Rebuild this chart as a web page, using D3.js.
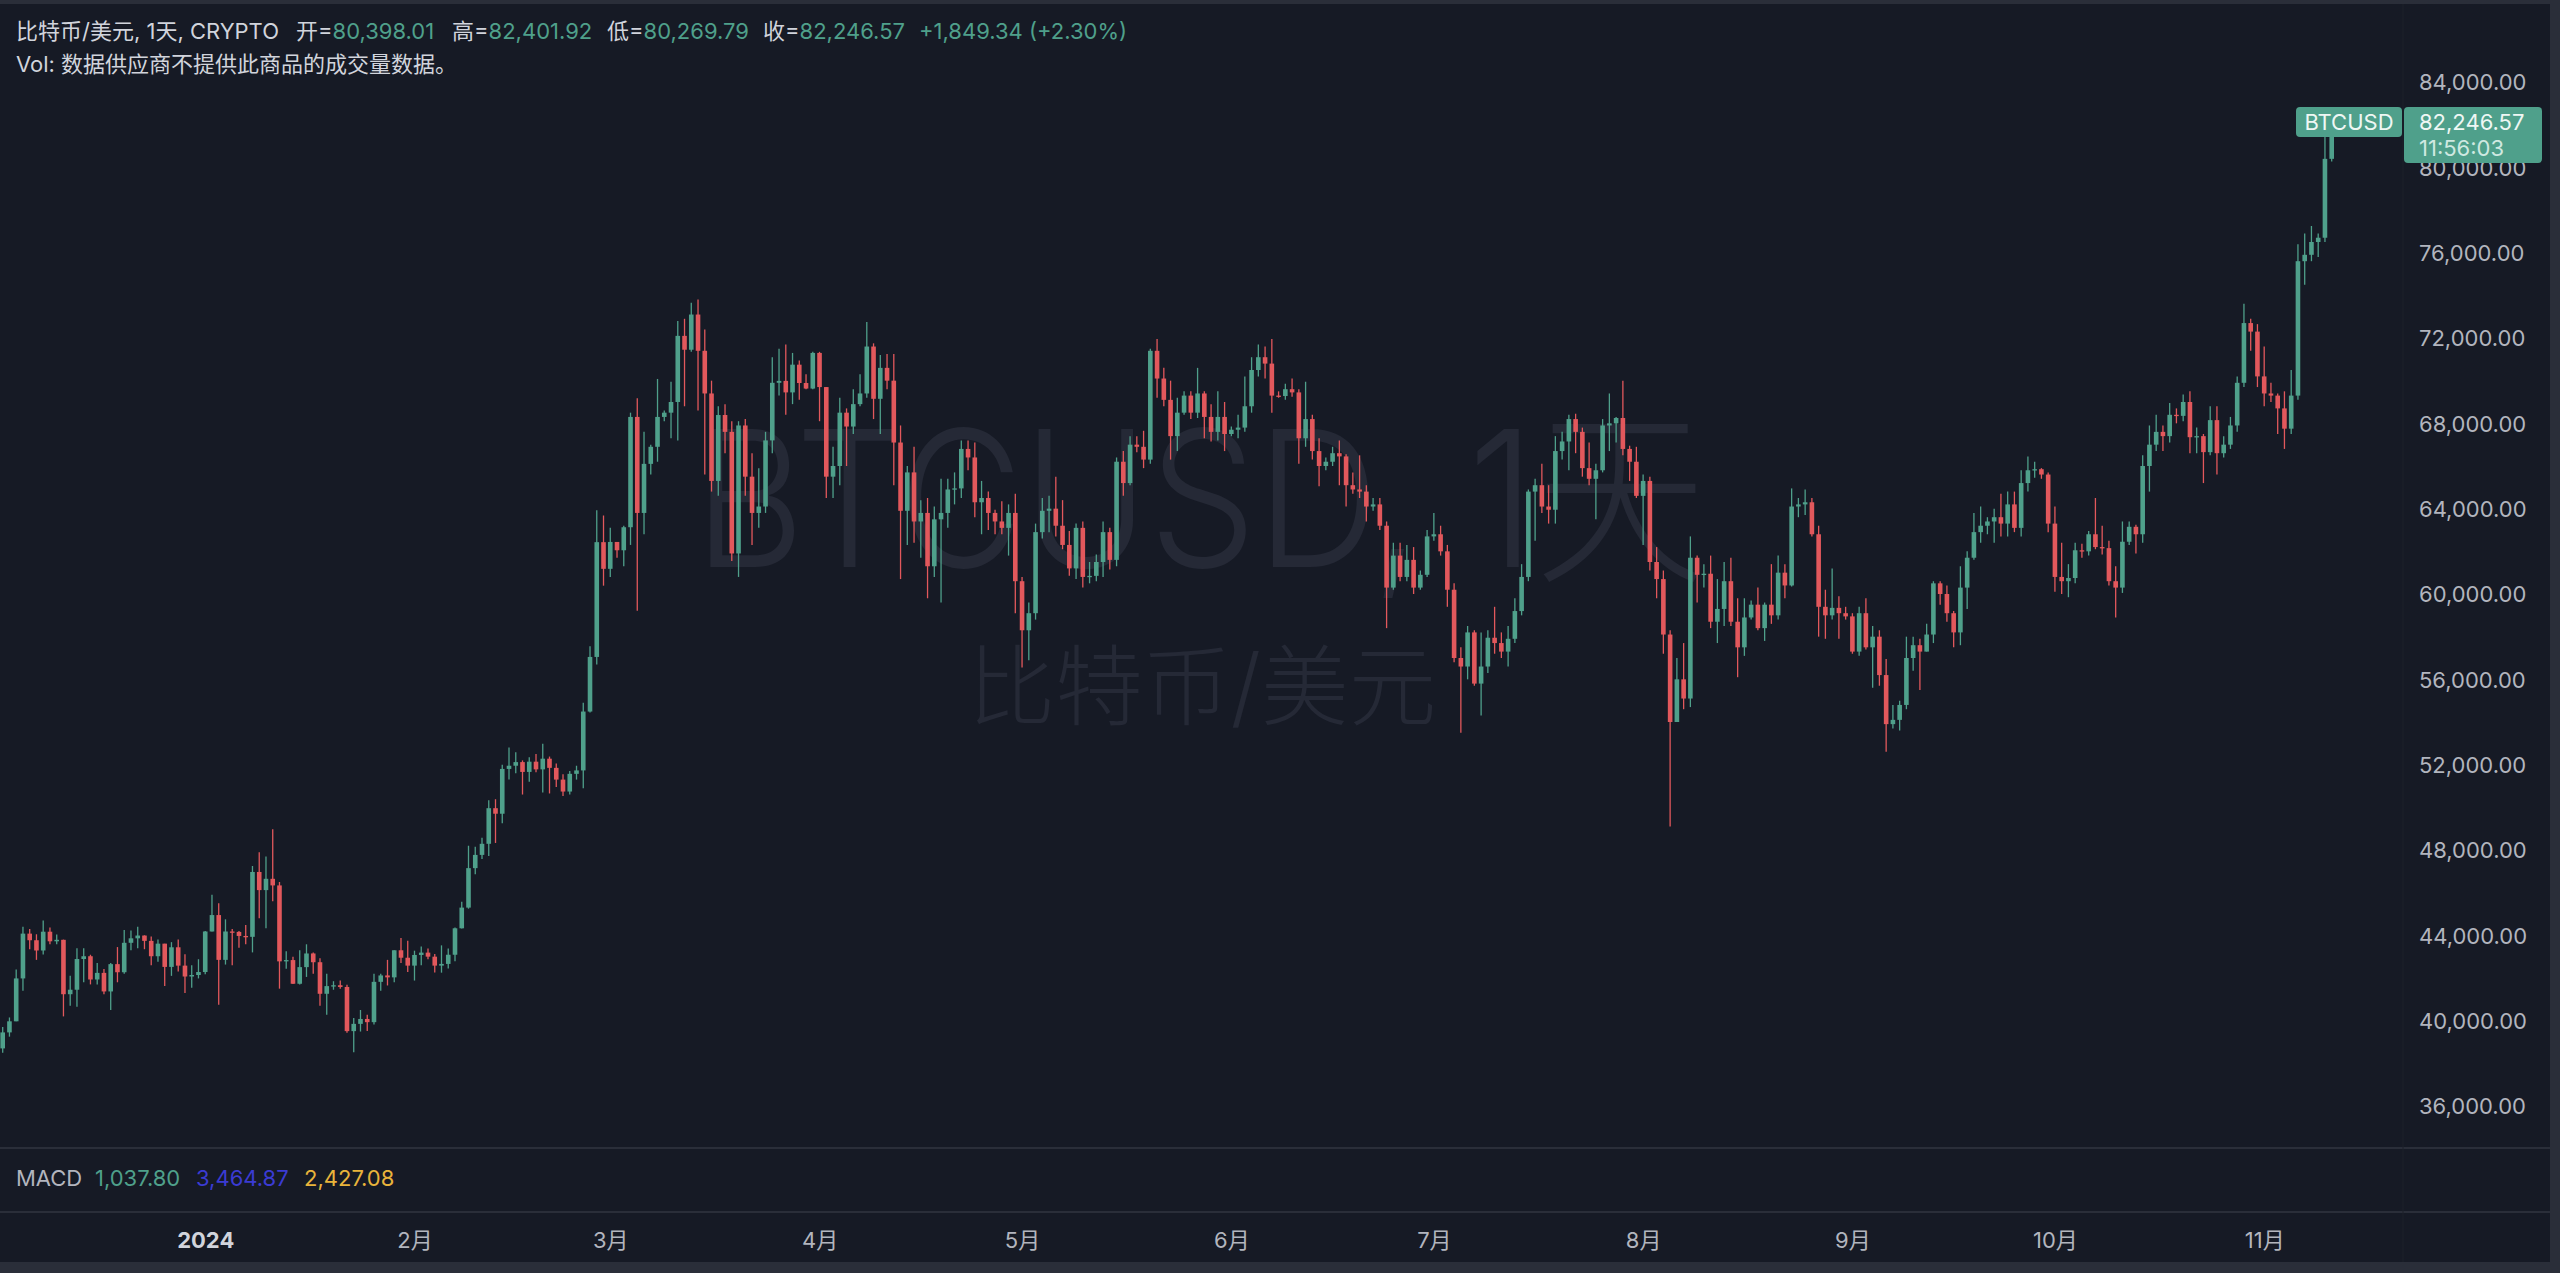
<!DOCTYPE html>
<html><head><meta charset="utf-8">
<script src="https://cdn.jsdelivr.net/npm/d3@7"></script>
<style>
html,body{margin:0;padding:0;background:#2a2e39;overflow:hidden;}
svg{display:block;}
text{font-family:Inter,"Noto Sans CJK SC","Noto Sans",sans-serif;}
</style></head><body>
<script>
// ---------- DATA ----------
const startDate = "2023-12-02"; // first daily candle (one candle per day)
const open = [
// Dec 2023
38700,39450,39970,41980,44080,43770,43290,44170,43720,43790,41240,41450,42890,43020,41930,42240,41370,42650,42270,43650,43860,43990,43740,43020,43610,42520,43440,42580,42070,42140,
// Jan
42280,44180,44950,42850,44180,44160,43970,43930,46970,46120,46650,46340,42780,42840,41730,42510,43150,42740,41260,41620,41660,41580,39510,39850,40080,39930,41820,42120,42030,43300,42950,
// Feb
42580,43080,43190,43000,42580,42660,43090,44330,45300,47150,47770,48290,49960,49700,51800,51950,52120,51660,52140,51780,52280,51850,51300,50740,51570,51730,54490,57050,62430,
// Mar
61180,62440,62050,63130,68300,63800,66100,66900,68300,68500,69000,72100,71450,73100,71400,69400,65300,68390,67600,61900,67900,65500,63800,64100,67200,69900,69990,69450,70750,69890,69630,
// Apr
71300,69700,65500,66000,68500,67850,68900,69400,71600,69150,70600,70000,67100,63900,65700,63400,63800,61300,63500,63800,64900,64950,66800,66400,64300,64500,63800,63400,63100,63800,
// May
60600,58300,59100,62900,63900,64000,63200,62300,61200,63100,60800,60850,61500,62900,61600,66200,65200,67000,66900,66300,71400,70100,69100,67400,68500,69300,68500,69400,68300,67600,68300,
// Jun
67500,67700,67800,68800,70500,71100,70800,69300,69280,69600,69450,67300,68200,66700,66000,66200,66600,66450,65100,64900,64800,64100,64200,63200,60300,61800,60800,61600,60300,60900,
// Jul
62700,62800,62000,60200,57000,56600,58200,55800,56600,57950,57700,57300,57900,59200,60800,64800,65100,64100,63950,66700,67150,68200,67600,65900,65400,65800,67900,68000,68250,66800,66200,
// Aug
64600,65300,61500,60700,58100,54000,56000,55100,61700,60900,60950,58700,59300,60600,58700,57500,58900,59500,58400,59500,59000,61000,60400,64100,64200,64300,62800,59400,59000,59350,59100,
// Sep
58950,57300,59100,57500,58000,56200,53900,54100,54800,57000,57600,57300,58100,60500,60000,59100,58200,60300,61700,62900,63200,63400,63600,63300,64200,63100,65200,65800,65850,65600,
// Oct
63300,60800,60600,60750,62050,62000,62800,62200,62150,60600,60300,62450,63150,62800,66000,67000,67600,67400,68400,68350,69000,67350,67400,66650,68150,66600,67000,67900,69900,72700,72300,
// Nov
70200,69400,69300,68700,67750,69300,75600,75900,76500,76700,80398.01
];
const high = [
39700,40150,42400,44400,44300,44050,44700,44370,44040,43800,42100,43400,43400,43090,42700,42420,42700,43450,44250,44230,44400,44000,43950,43800,43610,43680,43800,43110,42600,42880,
44200,45900,45500,44750,44300,44200,44490,47250,47900,47700,48970,46500,43250,43000,43300,43580,43200,42930,42200,41850,41880,41680,40130,40500,40280,42200,42200,42850,43300,43880,43750,
43280,43480,43380,43120,43530,43380,44370,45580,48200,48150,48580,50330,50380,52000,52800,52580,52200,52350,52500,52980,52380,52050,51550,51700,51950,54900,57550,63930,63680,
63100,62440,63200,68500,69170,67600,67000,70080,68600,69950,72800,72900,73650,73800,72400,70000,68800,68900,68100,68100,68200,66600,65900,67600,71100,71500,71700,71300,70950,70300,71350,
71350,69700,66900,69200,68700,69600,70300,72750,71750,71200,71250,71250,67900,66000,66900,64400,64500,64100,65400,65400,65700,67200,67200,67100,65300,64800,63950,64350,64200,64700,
60800,59600,63300,64500,64600,65500,64400,62950,63300,63400,61500,61850,63400,63100,66400,66700,67400,67400,67650,71500,71950,70600,70000,69200,69500,69500,70600,69500,68900,69500,69000,
67850,68400,70200,71100,71700,71600,71950,69500,69850,70100,69600,69950,68400,67300,66400,66900,67200,66550,65700,66500,65100,64500,64500,63400,62400,62400,62300,62200,61100,63000,
63800,63200,62300,60500,57500,58500,58300,58200,58300,59400,58200,58500,59800,61400,64900,65400,66100,65100,67400,67600,68400,68450,67800,67100,66100,68200,69400,68300,70000,66950,66900,
65600,65500,62200,61100,58300,57000,57700,62700,61800,61400,61800,60700,61500,61700,59800,59800,59700,60300,59600,61400,61800,61400,64950,64500,64900,64500,63200,60200,61200,59900,59400,
59100,59400,59800,58500,58300,56950,54800,55000,58000,58000,57900,58600,60600,60600,60400,59200,61300,62000,63800,64100,63600,64000,64700,64800,64800,65800,66450,66200,65900,65700,
64100,62400,61400,62400,62350,62950,64500,63200,62500,61300,63400,63400,63250,66500,67900,68400,67900,68950,68700,69350,69500,67800,67500,68800,68800,67400,68300,70200,73600,72900,72650,
71600,69900,69400,69500,70500,76400,76900,77250,76900,81500,82401.92
];
const low = [
38500,39250,39970,41400,43350,42850,43100,43580,43580,40200,40700,40650,41800,41700,41700,41240,40500,41800,42200,43300,43400,43350,42600,42760,41630,42100,42300,41300,41540,41980,
42170,44180,40750,42630,42600,43420,43580,43200,44800,44330,45600,41500,42430,41720,41700,42050,42200,40700,40280,41450,41500,39430,38520,39490,39520,39820,41400,41650,41800,42700,42280,
41880,42600,42880,42260,42250,42450,42780,44320,45250,46860,47580,47720,48330,49250,51300,51600,50600,51200,51650,50700,50650,50950,50530,50600,51300,50900,54450,56700,60390,
60800,61700,61300,62300,59220,62800,65600,66200,68100,67300,67200,68800,71350,68600,65600,64800,64600,66600,61550,60800,64600,62300,63100,63800,66600,69300,68400,68900,69100,69600,69600,
68100,64500,64500,65100,66000,67500,68800,69200,68200,67500,69600,65100,60700,62300,62400,61700,59800,60800,59600,63100,64200,64500,65800,63600,62800,63000,62800,62800,61800,59100,
56550,56900,58800,62600,62900,62700,62100,60850,60700,60300,60500,60600,60800,61150,61300,64600,65100,66650,65900,66100,69200,68800,66300,66700,68400,68200,68250,67300,67150,67200,66700,
67400,67300,67600,68500,70200,70100,68500,69200,69100,69250,66100,66900,66300,65050,65800,66000,65100,64100,64700,64500,63400,63900,63000,58400,60200,60600,60600,60000,60200,60800,
62500,61800,59400,56800,53500,56000,55700,54300,56300,57200,57000,56600,57700,59000,60600,62500,63800,63300,63300,66300,65800,66600,65500,65100,63500,65700,66700,67100,66500,65300,64500,
62300,61100,59800,57200,49100,54000,54600,54700,59600,60300,58400,57700,58500,58500,56100,57100,58800,58300,57800,58600,58800,59800,60350,63600,63700,62700,58000,57900,58800,57900,58800,
57200,57100,57400,55600,55700,52600,53700,53600,54600,56400,55500,57300,57700,59500,58700,57500,57600,59300,61600,62400,62800,62400,62700,62700,62900,62700,64800,65450,65400,62900,
60100,60000,59850,60500,61700,61800,62100,61850,60400,58900,60050,62300,61900,62400,64800,66700,66700,67100,68000,68100,66600,66600,65200,66500,65600,66400,66800,67600,69700,71400,69700,
68800,69000,67500,66800,67500,69100,74500,75600,75800,76500,80269.79
];
const close = [
39450,39970,41980,44080,43770,43290,44170,43720,43790,41240,41450,42890,43020,41930,42240,41370,42650,42270,43650,43860,43990,43740,43020,43610,42520,43440,42580,42070,42140,42280,
44180,44950,42850,44180,44160,43970,43930,46970,46120,46650,46340,42780,42840,41730,42510,43150,42740,41260,41620,41660,41580,39510,39850,40080,39930,41820,42120,42030,43300,42950,42580,
43080,43190,43000,42580,42660,43090,44330,45300,47150,47770,48290,49960,49700,51800,51950,52120,51660,52140,51780,52280,51850,51300,50740,51570,51730,54490,57050,62430,61180,
62440,62050,63130,68300,63800,66100,66900,68300,68500,69000,72100,71450,73100,71400,69400,65300,68390,67600,61900,67900,65500,63800,64100,67200,69900,69990,69450,70750,69890,69630,71300,
69700,65500,66000,68500,67850,68900,69400,71600,69150,70600,70000,67100,63900,65700,63400,63800,61300,63500,63800,64900,64950,66800,66400,64300,64500,63800,63400,63100,63800,60600,
58300,59100,62900,63900,64000,63200,62300,61200,63100,60800,60850,61500,62900,61600,66200,65200,67000,66900,66300,71400,70100,69100,67400,68500,69300,68500,69400,68300,67600,68300,67500,
67700,67800,68800,70500,71100,70800,69300,69280,69600,69450,67300,68200,66700,66000,66200,66600,66450,65100,64900,64800,64100,64200,63200,60300,61800,60800,61600,60300,60900,62700,
62800,62000,60200,57000,56600,58200,55800,56600,57950,57700,57300,57900,59200,60800,64800,65100,64100,63950,66700,67150,68200,67600,65900,65400,65800,67900,68000,68250,66800,66200,64600,
65300,61500,60700,58100,54000,56000,55100,61700,60900,60950,58700,59300,60600,58700,57500,58900,59500,58400,59500,59000,61000,60400,64100,64200,64300,62800,59400,59000,59350,59100,58950,
57300,59100,57500,58000,56200,53900,54100,54800,57000,57600,57300,58100,60500,60000,59100,58200,60300,61700,62900,63200,63400,63600,63300,64200,63100,65200,65800,65850,65600,63300,
60800,60600,60750,62050,62000,62800,62200,62150,60600,60300,62450,63150,62800,66000,67000,67600,67400,68400,68350,69000,67350,67400,66650,68150,66600,67000,67900,69900,72700,72300,70200,
69400,69300,68700,67750,69300,75600,75900,76500,76700,80398.01,82246.57
];
const priceTicks = [36000,40000,44000,48000,52000,56000,60000,64000,68000,72000,76000,80000,84000];
const monthTickDates = ["2024-01-01","2024-02-01","2024-03-01","2024-04-01","2024-05-01","2024-06-01","2024-07-01","2024-08-01","2024-09-01","2024-10-01","2024-11-01"];
const monthTickLabels = ["2024","2月","3月","4月","5月","6月","7月","8月","9月","10月","11月"];
const titleText = "比特币/美元, 1天, CRYPTO";
const ohlcLabels = ["开=","高=","低=","收="];
const ohlcValues = ["80,398.01","82,401.92","80,269.79","82,246.57"];
const changeText = "+1,849.34 (+2.30%)";
const volText = "Vol: 数据供应商不提供此商品的成交量数据。";
const macdName = "MACD";
const macdValues = ["1,037.80","3,464.87","2,427.08"];
const symbolName = "BTCUSD";
const lastPriceText = "82,246.57";
const countdownText = "11:56:03";
const watermark1 = "BTCUSD, 1天";
const watermark2 = "比特币/美元";

// ---------- LAYOUT ----------
const W = 2560, H = 1273;
const C = {
  bg: "#161a25", frame: "#2a2e39", sep: "#2a2e39",
  up: "#4fa08b", down: "#e2585c",
  text: "#d1d4dc", axis: "#b2b5be", wm: "#252936",
  macdBlue: "#3b3bd3", macdOrange: "#e9b43b"
};
const paneRight = 2403, mainBottom = 1148, macdBottom = 1212, frameBottom = 1262, frameRight = 2550, frameTop = 4;

const svg = d3.select("body").append("svg").attr("width", W).attr("height", H);
svg.append("rect").attr("width", W).attr("height", H).attr("fill", C.frame);
svg.append("rect").attr("x", 0).attr("y", frameTop).attr("width", frameRight).attr("height", frameBottom - frameTop).attr("fill", C.bg);

const parse = d3.utcParse("%Y-%m-%d");
const d0 = parse(startDate);
const dates = open.map((_, i) => d3.utcDay.offset(d0, i));
const n = dates.length;

const x = d3.scaleUtc().domain([dates[0], dates[n - 1]]).range([2.7, 2331.7]);
const y = d3.scaleLinear().domain([36000, 84000]).range([1106, 82]);

// watermark
const wm = svg.append("g").attr("fill", C.wm);
wm.append("text").attr("x", 1200).attr("y", 567).attr("text-anchor", "middle")
  .attr("font-size", 190).attr("font-weight", 300)
  .attr("textLength", 1012).attr("lengthAdjust", "spacingAndGlyphs").text(watermark1);
wm.append("text").attr("x", 1202).attr("y", 718).attr("text-anchor", "middle")
  .attr("font-size", 88).attr("font-weight", 300)
  .attr("textLength", 469).attr("lengthAdjust", "spacingAndGlyphs").text(watermark2);

// separators
svg.append("line").attr("x1", 0).attr("x2", frameRight).attr("y1", mainBottom).attr("y2", mainBottom).attr("stroke", C.sep).attr("stroke-width", 2);
svg.append("line").attr("x1", 0).attr("x2", frameRight).attr("y1", macdBottom).attr("y2", macdBottom).attr("stroke", C.sep).attr("stroke-width", 2);
svg.append("line").attr("x1", paneRight).attr("x2", paneRight).attr("y1", frameTop).attr("y2", frameBottom).attr("stroke", "#1c202b").attr("stroke-width", 1);

// candles
svg.append("clipPath").attr("id", "pane").append("rect").attr("x", 0).attr("y", frameTop).attr("width", paneRight).attr("height", mainBottom - frameTop);
const cg = svg.append("g").attr("clip-path", "url(#pane)");
const idx = d3.range(n);
const col = i => close[i] >= open[i] ? C.up : C.down;
const bw = 4.6;
cg.selectAll("line.wick").data(idx).join("line").attr("class", "wick")
  .attr("x1", i => x(dates[i])).attr("x2", i => x(dates[i]))
  .attr("y1", i => y(high[i])).attr("y2", i => y(low[i]))
  .attr("stroke", col).attr("stroke-width", 1.3);
cg.selectAll("rect.body").data(idx).join("rect").attr("class", "body")
  .attr("x", i => x(dates[i]) - bw / 2).attr("width", bw)
  .attr("y", i => y(Math.max(open[i], close[i])))
  .attr("height", i => Math.max(1.3, Math.abs(y(open[i]) - y(close[i]))))
  .attr("fill", col);

// price axis
const yAxis = d3.axisRight(y).tickValues(priceTicks).tickSize(0).tickPadding(0)
  .tickFormat(d => d3.format(",.2f")(d));
const ya = svg.append("g").attr("transform", `translate(2419,0)`).call(yAxis);
ya.select(".domain").remove();
ya.selectAll("text").attr("fill", C.axis).attr("font-size", 22).attr("font-family", "Inter, sans-serif").attr("dy", "0.35em");

// time axis
const tickDates = monthTickDates.map(parse);
const xAxis = d3.axisBottom(x).tickValues(tickDates).tickSize(0).tickPadding(0)
  .tickFormat((d, i) => monthTickLabels[i]);
const xa = svg.append("g").attr("transform", `translate(0,1240)`).call(xAxis);
xa.select(".domain").remove();
xa.selectAll("text").attr("font-size", 22).attr("dy", "0.35em")
  .attr("font-family", 'Inter, "Noto Sans CJK SC", sans-serif')
  .attr("font-weight", (d, i) => i === 0 ? 700 : 400)
  .attr("fill", (d, i) => i === 0 ? C.text : C.axis);

// last price labels
const yl = y(close[n - 1]);
const lab = svg.append("g");
lab.append("rect").attr("x", 2296).attr("y", yl - 12.5).attr("width", 106).attr("height", 30).attr("rx", 4).attr("fill", C.up);
lab.append("text").attr("x", 2349).attr("y", yl + 2.5).attr("dy", "0.35em").attr("text-anchor", "middle")
  .attr("font-size", 22).attr("fill", "#eef7f4").text(symbolName);
lab.append("rect").attr("x", 2404).attr("y", yl - 12.5).attr("width", 138).attr("height", 56).attr("rx", 4).attr("fill", C.up);
lab.append("text").attr("x", 2419).attr("y", yl + 2.5).attr("dy", "0.35em").attr("font-size", 22).attr("fill", "#eef7f4").text(lastPriceText);
lab.append("text").attr("x", 2419).attr("y", yl + 28.5).attr("dy", "0.35em").attr("font-size", 22).attr("fill", "#cfe9e1").text(countdownText);

// header legend
const hd = svg.append("g").attr("font-size", 22);
hd.append("text").attr("x", 16).attr("y", 31).attr("dy", "0.35em").attr("fill", C.text).text(titleText);
const groupX = [296, 452, 607, 763];
ohlcLabels.forEach((l, k) => {
  const t = hd.append("text").attr("x", groupX[k]).attr("y", 31).attr("dy", "0.35em");
  t.append("tspan").attr("fill", C.text).text(l);
  t.append("tspan").attr("fill", C.up).text(ohlcValues[k]);
});
hd.append("text").attr("x", 919).attr("y", 31).attr("dy", "0.35em").attr("fill", C.up).text(changeText);
hd.append("text").attr("x", 16).attr("y", 64).attr("dy", "0.35em").attr("fill", C.text).text(volText);

// MACD legend
const mg = svg.append("g").attr("font-size", 22);
mg.append("text").attr("x", 16).attr("y", 1178).attr("dy", "0.35em").attr("fill", C.axis).text(macdName);
const macdX = [95, 196, 304];
const macdCol = [C.up, C.macdBlue, C.macdOrange];
macdValues.forEach((v, k) => {
  mg.append("text").attr("x", macdX[k]).attr("y", 1178).attr("dy", "0.35em").attr("fill", macdCol[k]).text(v);
});
</script>
</body></html>
